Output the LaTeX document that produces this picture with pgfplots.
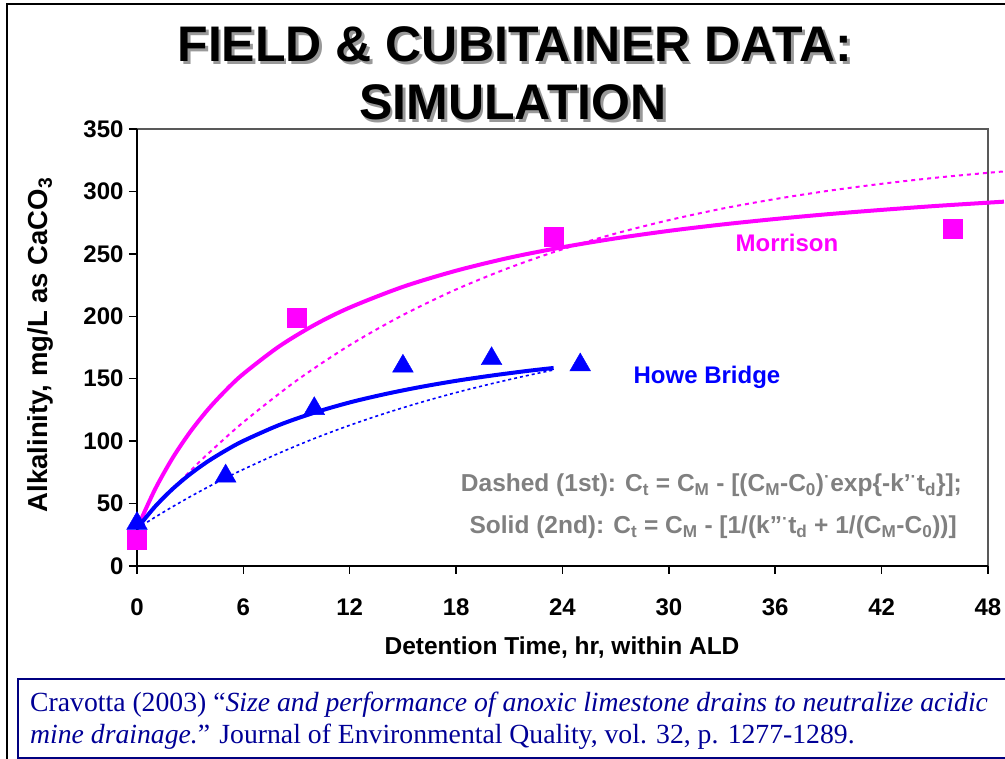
\documentclass[border=0pt]{standalone}
\usepackage{pgfplots}
\pgfplotsset{compat=1.18}
\usepackage{fontspec}
\setmainfont{Liberation Sans}
\newfontfamily\citefont{Liberation Serif}
\definecolor{mag}{RGB}{255,0,255}
\definecolor{blu}{RGB}{0,0,255}
\definecolor{gtext}{RGB}{128,128,128}
\definecolor{navy}{RGB}{0,0,150}
\definecolor{navyb}{RGB}{0,0,128}
\begin{document}
\begin{tikzpicture}[x=1pt,y=1pt]
\begin{axis}[
  width=851, height=437, scale only axis,
  xmin=0, xmax=48, ymin=0, ymax=350,
  clip=false,
  axis line style={draw=none},
  tick align=outside, tick pos=left,
  major tick length=8pt,
  tick style={black, line width=1.5pt},
  xtick={0,6,...,48}, ytick={0,50,...,350},
  /pgf/number format/assume math mode=true,
  ticklabel style={font=\fontsize{24}{28}\selectfont\bfseries},
  xticklabel style={yshift=-21pt},
  yticklabel style={xshift=-2pt},
]
% plot frame
\draw[black!65, line width=2pt] (rel axis cs:0,1) -- (rel axis cs:1,1) -- (rel axis cs:1,0);
\draw[black, line width=2pt] (rel axis cs:0,1) -- (rel axis cs:0,0) -- (rel axis cs:1,0);
% Morrison 1st order (dashed)
\addplot[mag, line width=2pt, dash pattern=on 4pt off 4pt, smooth] coordinates {
 (0,30) (1,46.2) (2,61.5) (3,76.1) (4,89.8) (6,115.2) (9,148.5) (12,176.9) (15,201) (18,221.5)
 (21,238.9) (24,253.7) (27,266.3) (30,277) (33,286.2) (36,293.9) (39,300.5) (42,306.1) (45,310.9) (48,314.9) (48.9,316)
};
% Morrison 2nd order (solid)
\addplot[mag, line width=4pt, smooth] coordinates {
 (0,30) (1,60.9) (2,86.3) (3,107.4) (4,125.3) (5,140.6) (6,153.9) (8,175.7) (10,193.0) (12,207.0)
 (15,223.6) (18,236.5) (21,246.9) (24,255.3) (27,262.4) (30,268.4) (33,273.5) (36,277.9) (39,281.8)
 (42,285.2) (45,288.3) (48,291.0) (48.9,291.8)
};
% Howe Bridge 1st order (dashed)
\addplot[blu, line width=1.6pt, dash pattern=on 3pt off 3pt, smooth] coordinates {
 (0,30) (1,38.9) (2,47.4) (3,55.5) (4,63.2) (5,70.5) (6,77.4) (8,90.3) (10,102.1) (12,112.7)
 (14,122.3) (16,131) (18,138.9) (20,146) (22,152.5) (23.5,157)
};
% Howe Bridge 2nd order (solid)
\addplot[blu, line width=4pt, smooth] coordinates {
 (0,30) (1,47.3) (2,61.6) (3,73.6) (4,83.8) (5,92.5) (6,100.2) (8,112.8) (10,122.8) (12,131)
 (14,137.7) (16,143.4) (18,148.3) (20,152.5) (22,156.2) (23.5,158.6)
};
% Howe Bridge data
\addplot[only marks, mark=triangle*, mark size=12pt, blu, mark options={fill=blu, draw=blu}] coordinates {
 (0,34) (5,72) (10,126) (15,160) (20,166) (25,161)
};
% Morrison data
\addplot[only marks, mark=square*, mark size=9.5pt, mag, mark options={fill=mag, draw=mag}] coordinates {
 (0,21) (9,199) (23.5,264) (46,270)
};
\node[text=mag, font=\fontsize{24}{28}\selectfont\bfseries] at (axis cs:36.66,258.7) {Morrison};
\node[text=blu, font=\fontsize{24}{28}\selectfont\bfseries] at (axis cs:32.15,151.4) {Howe Bridge};
\node[text=gtext, font=\fontsize{24.5}{28}\selectfont\bfseries] at (axis cs:32.4,64.9)
 {Dashed (1st): C\textsubscript{t} = C\textsubscript{M} - [(C\textsubscript{M}-C\textsubscript{0})\textsuperscript{·}exp\{-k'\textsuperscript{·}t\textsubscript{d}\}];};
\node[text=gtext, font=\fontsize{24.5}{28}\selectfont\bfseries] at (axis cs:32.5,31.2)
 {Solid (2nd): C\textsubscript{t} = C\textsubscript{M} - [1/(k''\textsuperscript{·}t\textsubscript{d} + 1/(C\textsubscript{M}-C\textsubscript{0}))]};
\end{axis}
\begin{scope}[shift={(-137,-193)}]
% page frame
\draw[line width=2pt, black] (7,-2) -- (7,755) -- (1010,755);
% title with shadow
\node[anchor=base, text=black!40, font=\fontsize{50}{60}\selectfont\bfseries] at (517.5,694.5) {FIELD \& CUBITAINER DATA:};
\node[anchor=base, font=\fontsize{50}{60}\selectfont\bfseries] at (515,697) {FIELD \& CUBITAINER DATA:};
\node[anchor=base, text=black!40, font=\fontsize{50}{60}\selectfont\bfseries] at (515.5,636.5) {SIMULATION};
\node[anchor=base, font=\fontsize{50}{60}\selectfont\bfseries] at (513,639) {SIMULATION};
% axis labels
\node[rotate=90, font=\fontsize{27.5}{30}\selectfont\bfseries] at (40,414) {Alkalinity, mg/L as CaCO\textsubscript{3}};
\node[font=\fontsize{24.5}{28}\selectfont\bfseries] at (562,111) {Detention Time, hr, within ALD};
% citation box
\draw[navyb, line width=1.5pt] (18,1) rectangle (1030,80);
\node[anchor=base west, text=navy, font=\citefont\fontsize{27.7}{30}\selectfont, inner sep=0pt] at (30,47)
 {Cravotta (2003) “\textit{Size and performance of anoxic limestone drains to neutralize acidic}};
\node[anchor=base west, text=navy, font=\citefont\fontsize{27.7}{30}\selectfont, inner sep=0pt] at (30,15)
 {\textit{mine drainage.}” Journal of Environmental Quality, vol. 32, p. 1277-1289.};
\pgfresetboundingbox
\path[use as bounding box] (0,0) rectangle (1005,759);
\end{scope}
\end{tikzpicture}
\end{document}
